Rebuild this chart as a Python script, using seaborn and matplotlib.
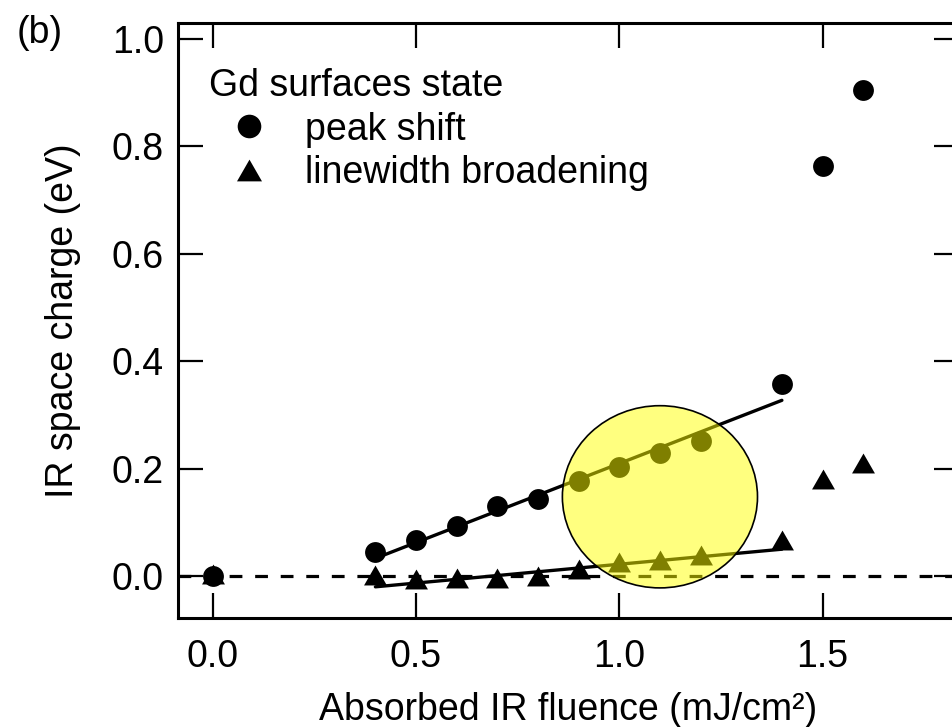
import numpy as np
import pandas as pd
import seaborn as sns
import matplotlib.pyplot as plt
from matplotlib.patches import Ellipse
from matplotlib.lines import Line2D

# data
fluence = [0.0, 0.4, 0.5, 0.6, 0.7, 0.8, 0.9, 1.0, 1.1, 1.2, 1.4, 1.5, 1.6]
peak_shift = [0.0, 0.045, 0.067, 0.094, 0.131, 0.143, 0.177, 0.203, 0.229, 0.252, 0.358, 0.763, 0.905]
broadening = [0.004, 0.002, -0.006, -0.004, -0.003, 0.0, 0.014, 0.027, 0.030, 0.039, 0.068, 0.180, 0.211]

# linear fits (end points)
fit_x = [0.4, 1.4]
peak_fit = [0.033, 0.327]
broad_fit = [-0.020, 0.050]

x_ticks = [0.0, 0.5, 1.0, 1.5]
y_ticks = [0.0, 0.2, 0.4, 0.6, 0.8, 1.0]

sns.set_style('ticks')
plt.rcParams['font.family'] = ['Liberation Sans', 'DejaVu Sans']
plt.rcParams.update({'font.size': 27, 'text.color': 'black', 'axes.labelcolor': 'black',
                     'xtick.color': 'black', 'ytick.color': 'black',
                     'axes.edgecolor': 'black'})

tri = [(-1, -0.87), (1, -0.87), (0, 0.87)]

fig = plt.figure(figsize=(9.53, 7.27), dpi=100)
ax = fig.add_axes([178 / 953, 109 / 727, 781 / 953, 595 / 727])

df = pd.DataFrame({'fluence': fluence, 'peak': peak_shift, 'width': broadening})

ax.axhline(0, color='black', lw=2.3, ls=(0, (4, 4)), zorder=1)
sns.lineplot(x=fit_x, y=peak_fit, color='black', lw=2.4, ax=ax, zorder=2)
sns.lineplot(x=fit_x, y=broad_fit, color='black', lw=2.4, ax=ax, zorder=2)
sns.scatterplot(data=df, x='fluence', y='width', marker=tri, s=272, color='black',
                linewidth=0, ax=ax, zorder=3)
sns.scatterplot(data=df, x='fluence', y='peak', marker='o', s=225, color='black',
                linewidth=0, ax=ax, zorder=3)

ax.add_patch(Ellipse((1.10, 0.1475), 0.48, 0.339, facecolor=(1, 1, 0, 0.5),
                     edgecolor='black', lw=1.2, zorder=5))

ax.set_xlim(-0.0856, 1.8357)
ax.set_ylim(-0.078, 1.029)
ax.set_xticks(x_ticks)
ax.set_yticks(y_ticks)
ax.xaxis.set_major_formatter(plt.FormatStrFormatter('%.1f'))
ax.yaxis.set_major_formatter(plt.FormatStrFormatter('%.1f'))
ax.tick_params(direction='in', length=18, width=1.6, top=True, right=True, labelsize=27)
ax.tick_params(axis='x', pad=15)
ax.tick_params(axis='y', pad=10)
for s in ax.spines.values():
    s.set_linewidth(2.2)

ax.set_xlabel('Absorbed IR fluence (mJ/cm²)', fontsize=27, labelpad=12)
ax.set_ylabel('IR space charge (eV)', fontsize=27, labelpad=22)

handles = [
    Line2D([], [], ls='none', marker='o', color='black', markersize=17, markeredgewidth=0),
    Line2D([], [], ls='none', marker=tri, color='black', markersize=18, markeredgewidth=0),
]
ax.legend(handles, ['peak shift', 'linewidth broadening'], title='Gd surfaces state',
          loc='upper left', bbox_to_anchor=(209 / 953, 1 - 68 / 727),
          bbox_transform=fig.transFigure, frameon=False, alignment='left',
          fontsize=27, title_fontsize=27, handlelength=2.13, handletextpad=0.43,
          labelspacing=0.2, borderpad=0, borderaxespad=0, numpoints=1)

fig.text(17 / 953, 1 - 33 / 727, '(b)', fontsize=27, va='center', ha='left')

fig.savefig('out.png', dpi=100)
